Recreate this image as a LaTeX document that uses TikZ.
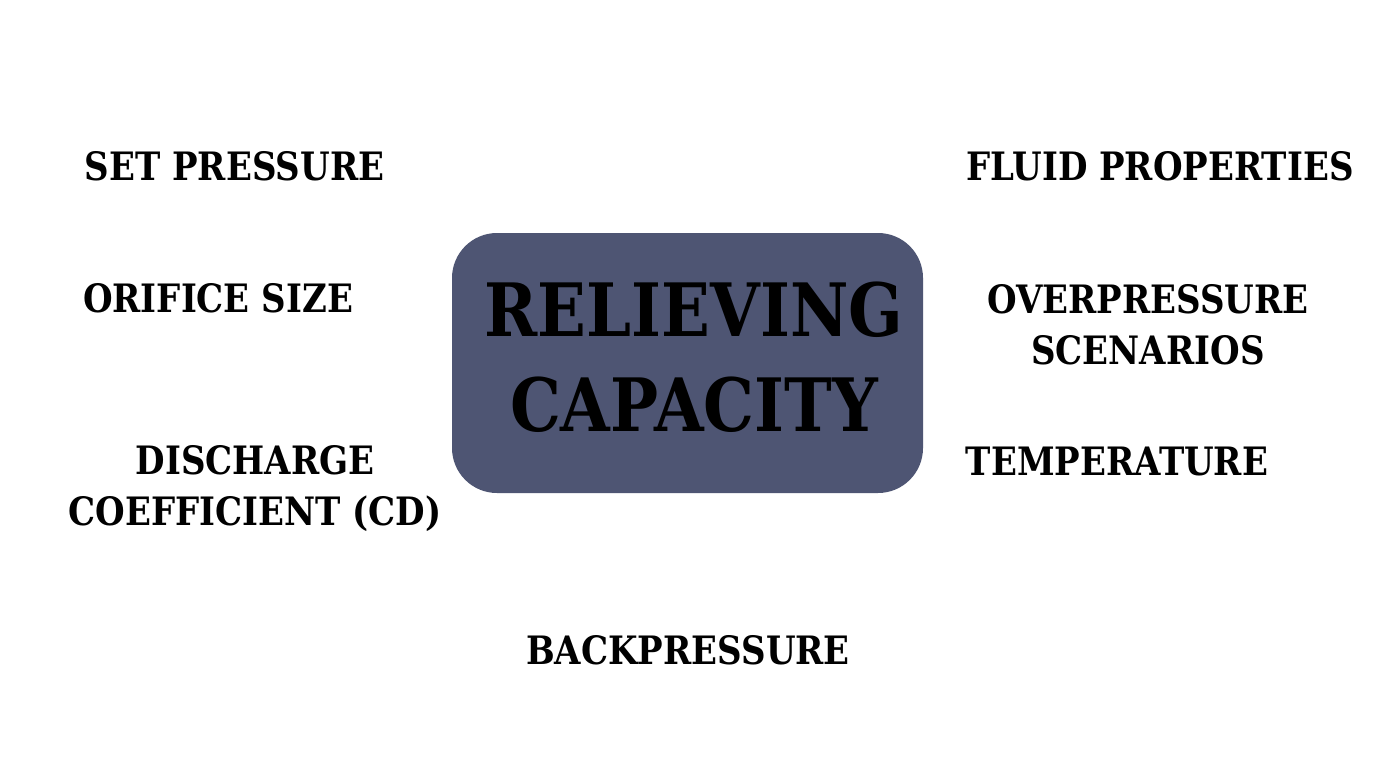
\documentclass[tikz,border=0pt]{standalone}
\usepackage{fontspec}
\usepackage{graphicx}
\setmainfont{DejaVu Serif}
\definecolor{boxfill}{HTML}{4E5573}
\newcommand{\tallbox}[1]{\scalebox{1}[1.15]{#1}}
\tikzset{
  lbl/.style={font=\bfseries\fontsize{34}{51}\selectfont, align=center, inner sep=0pt, text=black},
  big/.style={font=\bfseries\fontsize{64}{95}\selectfont, align=center, inner sep=0pt, text=black},
  core/.style={fill=boxfill, rounded corners=45pt, draw=none}
}
\begin{document}
\begin{tikzpicture}[x=1pt,y=-1pt]
\useasboundingbox (0,0) rectangle (1391,774);
\fill[white] (0,0) rectangle (1391,774);
\fill[core] (452,233) rectangle (923,493);
\node[big] (center) at (694,357) {\tallbox{RELIEVING}\\\tallbox{CAPACITY}};
\node[lbl] (setp) at (234.5,166) {\tallbox{SET PRESSURE}};
\node[lbl] (fluid) at (1160,166) {\tallbox{FLUID PROPERTIES}};
\node[lbl] (orif) at (218,298) {\tallbox{ORIFICE SIZE}};
\node[lbl] (over) at (1148,325) {\tallbox{OVERPRESSURE}\\\tallbox{SCENARIOS}};
\node[lbl] (disc) at (255,489) {\tallbox{DISCHARGE}\\\tallbox{COEFFICIENT (CD)}};
\node[lbl] (temp) at (1117,462) {\tallbox{TEMPERATURE}};
\node[lbl] (back) at (688,650) {\tallbox{BACKPRESSURE}};
\end{tikzpicture}
\end{document}
